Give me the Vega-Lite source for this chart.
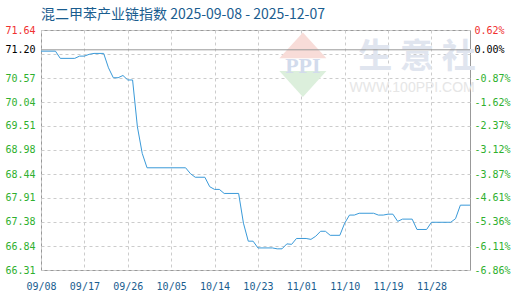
{
  "$schema": "https://vega.github.io/schema/vega-lite/v6.json",
  "width": 429,
  "height": 240,
  "autosize": "none",
  "padding": {"left": 41, "top": 30, "right": 50, "bottom": 30},
  "background": "white",
  "title": {
    "text": "混二甲苯产业链指数 2025-09-08 - 2025-12-07",
    "anchor": "start",
    "frame": "group",
    "offset": 3,
    "font": "Noto Sans CJK SC",
    "fontSize": 14,
    "fontWeight": "normal",
    "color": "#1a5d8f"
  },
  "config": {
    "view": {"stroke": "#999", "strokeWidth": 1},
    "axis": {"labelFont": "DejaVu Sans Mono", "labelFontSize": 10, "title": null}
  },
  "datasets": {
    "series": [
      {"date": "2025-09-08", "value": 71.17},
      {"date": "2025-09-11", "value": 71.17},
      {"date": "2025-09-12", "value": 71.01},
      {"date": "2025-09-15", "value": 71.01},
      {"date": "2025-09-16", "value": 71.06},
      {"date": "2025-09-17", "value": 71.06},
      {"date": "2025-09-18", "value": 71.10},
      {"date": "2025-09-19", "value": 71.12},
      {"date": "2025-09-21", "value": 71.12},
      {"date": "2025-09-22", "value": 70.80},
      {"date": "2025-09-23", "value": 70.58},
      {"date": "2025-09-24", "value": 70.58},
      {"date": "2025-09-25", "value": 70.63},
      {"date": "2025-09-26", "value": 70.53},
      {"date": "2025-09-27", "value": 70.53},
      {"date": "2025-09-28", "value": 69.49},
      {"date": "2025-09-29", "value": 68.90},
      {"date": "2025-09-30", "value": 68.58},
      {"date": "2025-10-08", "value": 68.58},
      {"date": "2025-10-09", "value": 68.45},
      {"date": "2025-10-10", "value": 68.37},
      {"date": "2025-10-12", "value": 68.37},
      {"date": "2025-10-13", "value": 68.16},
      {"date": "2025-10-14", "value": 68.10},
      {"date": "2025-10-15", "value": 68.10},
      {"date": "2025-10-16", "value": 68.01},
      {"date": "2025-10-19", "value": 68.01},
      {"date": "2025-10-20", "value": 67.35},
      {"date": "2025-10-21", "value": 66.95},
      {"date": "2025-10-22", "value": 66.95},
      {"date": "2025-10-23", "value": 66.80},
      {"date": "2025-10-26", "value": 66.80},
      {"date": "2025-10-27", "value": 66.78},
      {"date": "2025-10-28", "value": 66.78},
      {"date": "2025-10-29", "value": 66.89},
      {"date": "2025-10-30", "value": 66.88},
      {"date": "2025-10-31", "value": 67.01},
      {"date": "2025-11-02", "value": 67.01},
      {"date": "2025-11-03", "value": 66.99},
      {"date": "2025-11-04", "value": 67.06},
      {"date": "2025-11-05", "value": 67.17},
      {"date": "2025-11-06", "value": 67.17},
      {"date": "2025-11-07", "value": 67.08},
      {"date": "2025-11-09", "value": 67.08},
      {"date": "2025-11-10", "value": 67.35},
      {"date": "2025-11-11", "value": 67.53},
      {"date": "2025-11-12", "value": 67.53},
      {"date": "2025-11-13", "value": 67.57},
      {"date": "2025-11-16", "value": 67.57},
      {"date": "2025-11-17", "value": 67.53},
      {"date": "2025-11-18", "value": 67.53},
      {"date": "2025-11-19", "value": 67.55},
      {"date": "2025-11-20", "value": 67.55},
      {"date": "2025-11-21", "value": 67.39},
      {"date": "2025-11-22", "value": 67.44},
      {"date": "2025-11-24", "value": 67.44},
      {"date": "2025-11-25", "value": 67.21},
      {"date": "2025-11-27", "value": 67.21},
      {"date": "2025-11-28", "value": 67.37},
      {"date": "2025-12-02", "value": 67.37},
      {"date": "2025-12-03", "value": 67.45},
      {"date": "2025-12-04", "value": 67.75},
      {"date": "2025-12-06", "value": 67.75}
    ],
    "one": [{}]
  },
  "layer": [
    {
      "data": {"name": "one"},
      "mark": {"type": "point", "shape": "M0,-0.55L1,0.55L-1,0.55Z", "filled": true, "color": "#f8dcd8", "opacity": 1, "size": 2209},
      "encoding": {
        "x": {"datum": {"year": 2025, "month": 11, "date": 1, "hours": 8, "utc": true}, "type": "temporal"},
        "y": {"datum": 71.30, "type": "quantitative", "axis": null}
      }
    },
    {
      "data": {"name": "one"},
      "mark": {"type": "point", "shape": "M0,0.55L1,-0.55L-1,-0.55Z", "filled": true, "color": "#dcefdc", "opacity": 1, "size": 2209},
      "encoding": {
        "x": {"datum": {"year": 2025, "month": 11, "date": 1, "hours": 8, "utc": true}, "type": "temporal"},
        "y": {"datum": 70.44, "type": "quantitative", "axis": null}
      }
    },
    {
      "data": {"name": "one"},
      "mark": {"type": "text", "text": "PPI", "font": "Liberation Serif", "fontSize": 22, "fontWeight": "bold", "color": "#d2dbec", "baseline": "middle", "align": "center"},
      "encoding": {
        "x": {"datum": {"year": 2025, "month": 11, "date": 1, "hours": 8, "utc": true}, "type": "temporal"},
        "y": {"datum": 70.84, "type": "quantitative", "axis": null}
      }
    },
    {
      "data": {"name": "one"},
      "mark": {"type": "text", "text": "生  意  社", "font": "Noto Sans CJK SC", "fontSize": 34, "fontWeight": "bold", "color": "#e0e5ef", "baseline": "middle", "align": "center"},
      "encoding": {
        "x": {"datum": {"year": 2025, "month": 11, "date": 25, "utc": true}, "type": "temporal"},
        "y": {"datum": 71.02, "type": "quantitative", "axis": null}
      }
    },
    {
      "data": {"name": "one"},
      "mark": {"type": "text", "text": "WWW.100PPI.COM", "font": "Liberation Sans", "fontSize": 14, "color": "#e6e6e6", "baseline": "middle", "align": "center"},
      "encoding": {
        "x": {"datum": {"year": 2025, "month": 11, "date": 24, "utc": true}, "type": "temporal"},
        "y": {"datum": 70.36, "type": "quantitative", "axis": null}
      }
    },
    {
      "data": {"name": "one"},
      "mark": {"type": "rule", "color": "#999", "strokeWidth": 1},
      "encoding": {
        "y": {
          "datum": 71.2,
          "type": "quantitative",
          "scale": {"domain": [66.31, 71.64], "nice": false, "zero": false},
          "axis": {
            "orient": "left",
            "values": [71.64, 71.107, 70.574, 70.041, 69.508, 68.975, 68.442, 67.909, 67.376, 66.843, 66.31],
            "grid": true,
            "gridColor": "#ccc",
            "gridDash": [3, 3],
            "gridWidth": 1,
            "labels": false,
            "ticks": false,
            "domain": false
          }
        }
      }
    },
    {
      "data": {"name": "series"},
      "mark": {"type": "line", "color": "#3a9ad9", "strokeWidth": 1, "interpolate": "linear"},
      "encoding": {
        "x": {
          "field": "date",
          "type": "temporal",
          "scale": {"type": "utc", "domain": [{"year": 2025, "month": 9, "date": 8, "utc": true}, {"year": 2025, "month": 12, "date": 6, "utc": true}]},
          "axis": {
            "values": [
              {"year": 2025, "month": 9, "date": 8, "utc": true},
              {"year": 2025, "month": 9, "date": 17, "utc": true},
              {"year": 2025, "month": 9, "date": 26, "utc": true},
              {"year": 2025, "month": 10, "date": 5, "utc": true},
              {"year": 2025, "month": 10, "date": 14, "utc": true},
              {"year": 2025, "month": 10, "date": 23, "utc": true},
              {"year": 2025, "month": 11, "date": 1, "utc": true},
              {"year": 2025, "month": 11, "date": 10, "utc": true},
              {"year": 2025, "month": 11, "date": 19, "utc": true},
              {"year": 2025, "month": 11, "date": 28, "utc": true}
            ],
            "labelExpr": "utcFormat(datum.value, '%m/%d')",
            "grid": true,
            "gridColor": "#ccc",
            "gridDash": [3, 3],
            "ticks": false,
            "domain": false,
            "labelPadding": 11,
            "labelColor": "#1a5d8f",
            "labelFlush": false,
            "labelOverlap": false
          }
        },
        "y": {
          "field": "value",
          "type": "quantitative",
          "axis": {
            "orient": "left",
            "values": [71.64, 71.2, 70.57, 70.04, 69.51, 68.98, 68.44, 67.91, 67.38, 66.84, 66.31],
            "format": ".2f",
            "grid": false,
            "ticks": false,
            "domain": false,
            "labelPadding": 6,
            "labelFlush": false,
            "labelOverlap": false,
            "labelColor": {"condition": [{"test": "datum.value > 71.5", "value": "#f03030"}, {"test": "datum.value > 71.1", "value": "#000000"}], "value": "#2eb02e"}
          }
        }
      }
    },
    {
      "data": {"name": "series"},
      "mark": {"type": "line", "opacity": 0},
      "encoding": {
        "x": {"field": "date", "type": "temporal"},
        "y": {
          "field": "value",
          "type": "quantitative",
          "axis": {
            "orient": "right",
            "values": [71.64, 71.2, 70.57, 70.04, 69.51, 68.98, 68.44, 67.91, 67.38, 66.84, 66.31],
            "labelExpr": "['0.62%','0.00%','-0.87%','-1.62%','-2.37%','-3.12%','-3.87%','-4.61%','-5.36%','-6.11%','-6.86%'][indexof([71.64, 71.2, 70.57, 70.04, 69.51, 68.98, 68.44, 67.91, 67.38, 66.84, 66.31], datum.value)]",
            "grid": false,
            "ticks": false,
            "domain": false,
            "labelPadding": 4,
            "labelFlush": false,
            "labelOverlap": false,
            "labelColor": {"condition": [{"test": "datum.value > 71.5", "value": "#f03030"}, {"test": "datum.value > 71.1", "value": "#000000"}], "value": "#2eb02e"}
          }
        }
      }
    }
  ],
  "resolve": {"axis": {"y": "independent"}}
}
